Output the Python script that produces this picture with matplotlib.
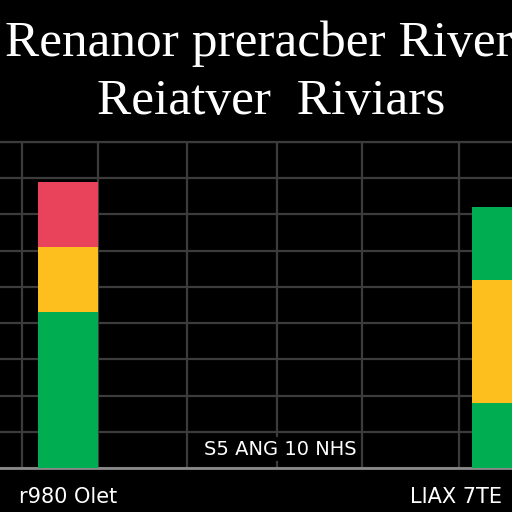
import matplotlib
matplotlib.use("Agg")
import matplotlib.pyplot as plt
import numpy as np

# Data
categories = ["r980 Olet", "LIAX 7TE"]
seg_bottom = [43, 18]      # green (bottom)
seg_middle = [18, 34]      # yellow
seg_top = [18, 20]         # red / green
top_colors = ["#E8435A", "#00AD50"]
title_lines = ["Renanor preracber River", "Reiatver  Riviars"]
annotation = "S5 ANG 10 NHS"

GREEN = "#00AD50"
YELLOW = "#FDBF1E"
BG = "#000000"
GRID = "#3c3c3c"

fig = plt.figure(figsize=(5.12, 5.12), dpi=100, facecolor=BG)
ax = fig.add_axes([0.0, 1 - 468 / 512, 1.0, (468 - 142) / 512])
ax.set_facecolor(BG)

x = np.array([0, 5])
w = 0.69
b1 = np.array(seg_bottom)
b2 = b1 + np.array(seg_middle)
ax.bar(x, seg_bottom, width=w, color=GREEN, zorder=3)
ax.bar(x, seg_middle, width=w, bottom=b1, color=YELLOW, zorder=3)
ax.bar(x, seg_top, width=w, bottom=b2, color=top_colors, zorder=3)

ax.set_xlim(-0.78, 5.115)
ax.set_ylim(0, 90)

ax.set_yticks(np.arange(0, 91, 10))
ax.set_xticks([-0.53, 0.35, 1.37, 2.41, 3.39, 4.5], minor=True)
ax.grid(True, which="major", axis="y", color=GRID, lw=1.6, zorder=1)
ax.grid(True, which="minor", axis="x", color=GRID, lw=1.6, zorder=1)
ax.tick_params(which="both", length=0, left=False, labelleft=False)

ax.set_xticks(x)
ax.set_xticklabels(categories, color="white", fontsize=15,
                   family=["Liberation Sans Narrow", "DejaVu Sans"])
ax.tick_params(axis="x", pad=14)
labels = ax.get_xticklabels()
labels[1].set_horizontalalignment("right")
labels[1].set_x(5.12)

for s in ["left", "right"]:
    ax.spines[s].set_visible(False)
ax.spines["top"].set_color(GRID)
ax.spines["top"].set_linewidth(1.6)
ax.spines["bottom"].set_color("#8a8a8a")
ax.spines["bottom"].set_linewidth(2)

ax.text(2.45, 5.2, annotation, color="white", fontsize=14, ha="center", va="center",
        family=["Liberation Sans Narrow", "DejaVu Sans"], zorder=4,
        bbox=dict(facecolor=BG, edgecolor="none", pad=2))

fig.text(0.505, 1 - 56 / 512, title_lines[0], color="white", fontsize=37,
         family="Liberation Serif", ha="center", va="baseline")
fig.text(0.53, 1 - 114 / 512, title_lines[1], color="white", fontsize=37,
         family="Liberation Serif", ha="center", va="baseline")

fig.savefig("out.png", dpi=100, facecolor=BG)
